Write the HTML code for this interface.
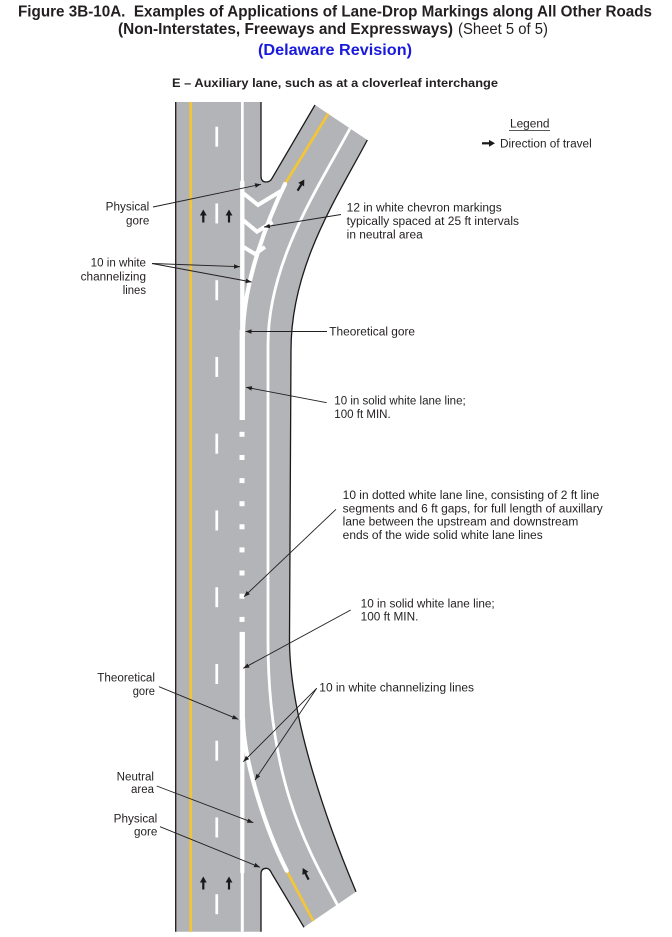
<!DOCTYPE html>
<html><head><meta charset="utf-8"><style>
html,body{margin:0;padding:0;background:#fff;}
svg{display:block;}
text{font-family:"Liberation Sans",Arial,sans-serif;fill:#231f20;}
</style></head><body>
<svg width="672" height="937" viewBox="0 0 672 937" xmlns="http://www.w3.org/2000/svg">
<defs>
<marker id="ah" viewBox="0 0 10 10" refX="10" refY="5" markerWidth="6" markerHeight="6" markerUnits="userSpaceOnUse" orient="auto"><path d="M0,1.2 L10,5 L0,8.8 z" fill="#231f20"/></marker>
<g id="arr"><path d="M0,0 L3.4,6 L-3.4,6 Z" fill="#1a1a1a"/><rect x="-1.1" y="5" width="2.2" height="8" fill="#1a1a1a"/></g>
</defs>
<rect width="672" height="937" fill="#fff"/>

<!-- Titles -->
<text x="18" y="16.5" font-size="16" font-weight="bold" textLength="634" lengthAdjust="spacingAndGlyphs">Figure 3B-10A.&#160; Examples of Applications of Lane-Drop Markings along All Other Roads</text>
<text x="118" y="34" font-size="16" font-weight="bold" textLength="335" lengthAdjust="spacingAndGlyphs">(Non-Interstates, Freeways and Expressways)</text>
<text x="458" y="34" font-size="16" textLength="90" lengthAdjust="spacingAndGlyphs">(Sheet 5 of 5)</text>
<text x="258" y="55" font-size="16" font-weight="bold" textLength="154" lengthAdjust="spacingAndGlyphs" style="fill:#1a1adc">(Delaware Revision)</text>
<text x="172" y="87" font-size="12" font-weight="bold" textLength="326" lengthAdjust="spacingAndGlyphs">E – Auxiliary lane, such as at a cloverleaf interchange</text>

<!-- Legend -->
<text x="510" y="127.5" font-size="11.5" textLength="39.5" lengthAdjust="spacingAndGlyphs">Legend</text>
<line x1="509" y1="130.5" x2="550" y2="130.5" stroke="#231f20" stroke-width="0.8"/>
<use href="#arr" transform="translate(495,143.3) rotate(90)"/>
<text x="500" y="147.5" font-size="11.5" textLength="91.7" lengthAdjust="spacingAndGlyphs">Direction of travel</text>

<!-- Road fill -->
<path d="M175.7,102 L261,102 L261,176 Q261,182 266,182 Q270.5,182 272.5,177.5 L315,105 L367.3,140 C338,196 291,265 291,350 L289.5,640 C289.5,720 330,830 356,891.7 L304,927.3 L271.7,873.3 Q269.5,868.3 266.3,868.3 Q261,868.3 261,874 L261,931.7 L175.7,931.7 Z" fill="#b3b4b7"/>

<!-- Edges -->
<g fill="none" stroke="#1a1a1a" stroke-width="1.3">
<path d="M175.7,102 L175.7,931.7"/>
<path d="M261,102 L261,176 Q261,182 266,182 Q270.5,182 272.5,177.5 L315,105"/>
<path d="M367.3,140 C338,196 291,265 291,350 L289.5,640 C289.5,720 330,830 356,891.7"/>
<path d="M304,927.3 L271.7,873.3 Q269.5,868.3 266.3,868.3 Q261,868.3 261,874 L261,931.7"/>
</g>

<!-- Yellow lines -->
<g stroke="#f3c537" stroke-width="2.7" fill="none">
<line x1="190.7" y1="102" x2="190.7" y2="931.7"/>
<line x1="328.3" y1="113.6" x2="285" y2="184"/>
<line x1="286.7" y1="870.7" x2="313.3" y2="921"/>
</g>

<!-- Lane dashes -->
<g fill="#fff">
<rect x="215.4" y="126.7" width="2.7" height="20"/>
<rect x="215.4" y="203.45" width="2.7" height="20"/>
<rect x="215.4" y="280.2" width="2.7" height="20"/>
<rect x="215.4" y="356.95" width="2.7" height="20"/>
<rect x="215.4" y="433.7" width="2.7" height="20"/>
<rect x="215.4" y="510.45" width="2.7" height="20"/>
<rect x="215.4" y="587.2" width="2.7" height="20"/>
<rect x="215.4" y="663.95" width="2.7" height="20"/>
<rect x="215.4" y="740.7" width="2.7" height="20"/>
<rect x="215.4" y="817.45" width="2.7" height="20"/>
<rect x="215.4" y="894.2" width="2.7" height="20"/>
</g>

<!-- Main white line -->
<g fill="#fff">
<rect x="241" y="102" width="2.7" height="82"/>
<rect x="239.6" y="330" width="5.3" height="90"/>
<rect x="239.6" y="631.9" width="5.3" height="88"/>
<rect x="240.8" y="870" width="3" height="61.7"/>
<rect x="239.5" y="431.8" width="5" height="5"/>
<rect x="239.5" y="455" width="5" height="5"/>
<rect x="239.5" y="478.1" width="5" height="5"/>
<rect x="239.5" y="501.2" width="5" height="5"/>
<rect x="239.5" y="524.3" width="5" height="5"/>
<rect x="239.5" y="547.4" width="5" height="5"/>
<rect x="239.5" y="570.5" width="5" height="5"/>
<rect x="239.5" y="593.7" width="5" height="5"/>
<rect x="239.5" y="616.9" width="5" height="5"/>
</g>
<g stroke="#fff" fill="none" stroke-linecap="round">
<line x1="242.3" y1="182" x2="242.3" y2="334" stroke-width="4.3"/>
<line x1="242.3" y1="715" x2="242.3" y2="872" stroke-width="4.2"/>
<path d="M285,184 C270,215 243,280 243,335" stroke-width="4.2"/>
<path d="M243,718 C243,760 266,830 286.7,870.7" stroke-width="4.2"/>
<path d="M350,128.5 C318,188 268,262 268,345 L268,640 C268,780 306,846 337.5,905" stroke-width="2.8" stroke-linecap="butt"/>
</g>
<!-- Chevrons -->
<g stroke="#fff" stroke-width="4" fill="none" stroke-linejoin="miter">
<polyline points="243,193 258,205 281,191"/>
<polyline points="243,220 257,231.7 272.5,222"/>
<polyline points="243,246.7 255,254 265,247"/>
</g>

<!-- Direction arrows -->
<use href="#arr" transform="translate(203.3,209.5)"/>
<use href="#arr" transform="translate(229,209.5)"/>
<use href="#arr" transform="translate(203.3,876.5)"/>
<use href="#arr" transform="translate(229,876.5)"/>
<use href="#arr" transform="translate(304.3,179.5) rotate(31)"/>
<use href="#arr" transform="translate(302.7,868) rotate(-27)"/>

<!-- Leader lines -->
<g stroke="#231f20" stroke-width="0.9" fill="none" marker-end="url(#ah)">
<line x1="153" y1="207" x2="261" y2="184.3"/>
<line x1="152" y1="263.5" x2="240" y2="266.7"/>
<line x1="152" y1="263.5" x2="251.7" y2="282"/>
<line x1="341" y1="214.5" x2="264" y2="227"/>
<line x1="327" y1="331.5" x2="245.5" y2="331.5"/>
<line x1="326.7" y1="402.7" x2="246" y2="387.3"/>
<line x1="336" y1="509.3" x2="244" y2="596.7"/>
<line x1="350.7" y1="610" x2="243.3" y2="668.3"/>
<line x1="316.7" y1="688.3" x2="243.3" y2="761.7"/>
<line x1="316.7" y1="688.3" x2="255" y2="780"/>
<line x1="159" y1="686.7" x2="238.3" y2="719.3"/>
<line x1="156.7" y1="786" x2="253.3" y2="822.7"/>
<line x1="160" y1="826.7" x2="260" y2="867.3"/>
</g>

<!-- Labels -->
<g font-size="11.5">
<text x="105.7" y="210.7" textLength="43.6" lengthAdjust="spacingAndGlyphs">Physical</text>
<text x="126" y="224.3" textLength="23.3" lengthAdjust="spacingAndGlyphs">gore</text>
<text x="90.7" y="266.7" textLength="55.3" lengthAdjust="spacingAndGlyphs">10 in white</text>
<text x="80.7" y="280.5" textLength="65.3" lengthAdjust="spacingAndGlyphs">channelizing</text>
<text x="122.7" y="293.8" textLength="23.3" lengthAdjust="spacingAndGlyphs">lines</text>

<text x="346.7" y="211.7" textLength="155" lengthAdjust="spacingAndGlyphs">12 in white chevron markings</text>
<text x="346.7" y="225" textLength="172.3" lengthAdjust="spacingAndGlyphs">typically spaced at 25 ft intervals</text>
<text x="346.7" y="238.3" textLength="76" lengthAdjust="spacingAndGlyphs">in neutral area</text>

<text x="329.3" y="335.7" textLength="85.7" lengthAdjust="spacingAndGlyphs">Theoretical gore</text>

<text x="334.3" y="404.7" textLength="131.4" lengthAdjust="spacingAndGlyphs">10 in solid white lane line;</text>
<text x="334.3" y="418" textLength="56.4" lengthAdjust="spacingAndGlyphs">100 ft MIN.</text>

<text x="342.7" y="499" textLength="256.6" lengthAdjust="spacingAndGlyphs">10 in dotted white lane line, consisting of 2 ft line</text>
<text x="342.7" y="512.3" textLength="260" lengthAdjust="spacingAndGlyphs">segments and 6 ft gaps, for full length of auxillary</text>
<text x="342.7" y="525.7" textLength="235.6" lengthAdjust="spacingAndGlyphs">lane between the upstream and downstream</text>
<text x="342.7" y="539" textLength="200" lengthAdjust="spacingAndGlyphs">ends of the wide solid white lane lines</text>

<text x="360.7" y="607.3" textLength="134" lengthAdjust="spacingAndGlyphs">10 in solid white lane line;</text>
<text x="360.7" y="620.7" textLength="57.7" lengthAdjust="spacingAndGlyphs">100 ft MIN.</text>

<text x="319.3" y="691.3" textLength="154.7" lengthAdjust="spacingAndGlyphs">10 in white channelizing lines</text>

<text x="97.3" y="681.3" textLength="57.7" lengthAdjust="spacingAndGlyphs">Theoretical</text>
<text x="132.7" y="695" textLength="22.3" lengthAdjust="spacingAndGlyphs">gore</text>
<text x="116.7" y="780.7" textLength="37.3" lengthAdjust="spacingAndGlyphs">Neutral</text>
<text x="131" y="793" textLength="23" lengthAdjust="spacingAndGlyphs">area</text>
<text x="113.7" y="822.3" textLength="43.6" lengthAdjust="spacingAndGlyphs">Physical</text>
<text x="134" y="835.7" textLength="23.3" lengthAdjust="spacingAndGlyphs">gore</text>
</g>
</svg>
</body></html>
